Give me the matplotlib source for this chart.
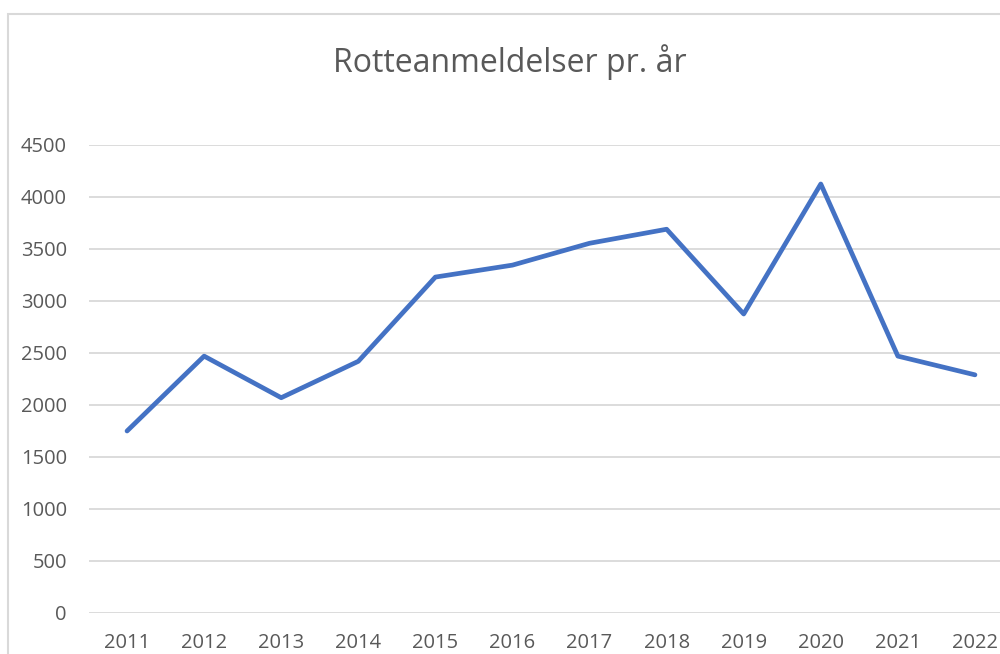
import matplotlib.pyplot as plt
from matplotlib.patches import Rectangle

years = ['2011', '2012', '2013', '2014', '2015', '2016',
         '2017', '2018', '2019', '2020', '2021', '2022']
reports = [1750, 2470, 2070, 2420, 3230, 3345, 3555, 3690, 2875, 4125, 2470, 2290]
yticks = [0, 500, 1000, 1500, 2000, 2500, 3000, 3500, 4000, 4500]

plt.rcParams['font.family'] = ['Open Sans', 'DejaVu Sans']
txt = '#595959'
grid = '#d9d9d9'

fig = plt.figure(figsize=(10, 6.54), dpi=100)

# chart area border like an excel chart
fig.patches.append(Rectangle((8 / 1000, -0.1), 2, (654 - 14) / 654 + 0.1,
                             transform=fig.transFigure, fill=False,
                             edgecolor=grid, linewidth=1.5))

ax = fig.add_axes([88.5 / 1000, 41 / 654, 0.925, 468 / 654])
ax.plot(range(len(years)), reports, color='#4472C4', linewidth=3.4,
        solid_joinstyle='round', solid_capstyle='round')

ax.set_xlim(-0.5, len(years) - 0.5)
ax.set_ylim(0, 4500)
ax.set_yticks(yticks)
ax.set_xticks(range(len(years)))
ax.set_xticklabels(years)
ax.yaxis.grid(True, color=grid, linewidth=1.3)
ax.set_axisbelow(True)
for s in ax.spines.values():
    s.set_visible(False)
ax.tick_params(length=0, labelsize=14.5, labelcolor=txt)
ax.tick_params(axis='y', pad=15.5)
ax.tick_params(axis='x', pad=14.5)

fig.text(0.51, 1 - 62 / 654, 'Rotteanmeldelser pr. år', ha='center', va='center',
         fontsize=23, color=txt)

fig.savefig('out.png', dpi=100)
